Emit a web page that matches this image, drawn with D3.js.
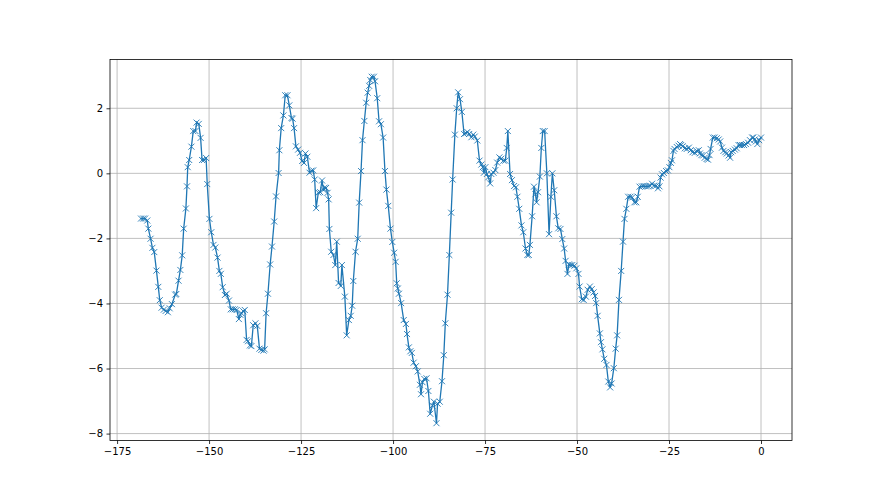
<!DOCTYPE html>
<html>
<head>
<meta charset="utf-8">
<script src="https://cdn.jsdelivr.net/npm/d3@7"></script>
<style>
html,body{margin:0;padding:0;background:#fff;}
svg{display:block;font-family:"DejaVu Sans",sans-serif;}
</style>
</head>
<body>
<svg id="chart" width="880" height="495"></svg>
<script>
const xValues = [-168.5,-167.9,-167.4,-166.8,-166.5,-165.9,-165.4,-164.9,-164.3,-163.8,-163.4,-162.9,-162.3,-161.8,-161.2,-160.7,-160.1,-159.2,-158.9,-158.3,-157.8,-157.3,-156.9,-156.3,-156.0,-155.8,-155.4,-154.8,-154.3,-153.7,-153.4,-152.8,-152.3,-151.9,-151.4,-150.8,-150.5,-149.9,-149.4,-148.8,-148.3,-147.7,-147.2,-146.8,-146.3,-145.7,-145.2,-144.6,-144.1,-143.6,-143.0,-142.5,-141.9,-141.5,-141.2,-140.7,-140.3,-139.8,-139.4,-138.9,-138.5,-138.0,-137.4,-136.9,-136.3,-135.8,-135.2,-134.9,-134.5,-134.0,-133.4,-132.9,-132.3,-131.8,-131.1,-130.9,-130.4,-129.8,-129.3,-128.7,-128.2,-127.6,-127.3,-126.9,-126.4,-125.8,-125.3,-124.7,-124.2,-123.8,-123.3,-122.7,-122.2,-121.7,-121.3,-120.9,-120.3,-119.8,-119.3,-118.9,-118.6,-118.2,-117.8,-117.5,-117.3,-116.8,-116.2,-115.7,-115.3,-114.8,-114.2,-113.9,-113.1,-112.6,-112.0,-111.5,-111.1,-110.8,-110.2,-109.6,-109.2,-108.7,-108.3,-107.8,-107.3,-106.9,-106.5,-106.2,-105.8,-105.2,-104.9,-104.3,-103.8,-103.3,-102.7,-102.2,-101.8,-101.3,-100.7,-100.2,-99.7,-99.3,-99.0,-98.7,-98.4,-97.8,-97.1,-96.5,-96.2,-95.7,-95.3,-94.9,-94.4,-93.8,-93.3,-92.7,-92.4,-92.0,-91.5,-90.9,-90.4,-89.9,-89.3,-88.9,-88.2,-87.9,-87.3,-86.7,-86.2,-85.8,-85.2,-84.7,-84.2,-83.8,-83.2,-82.7,-82.3,-81.8,-81.3,-80.7,-80.2,-79.8,-79.3,-78.7,-78.2,-77.8,-77.1,-76.5,-76.0,-75.6,-75.3,-74.9,-74.5,-74.1,-73.6,-73.3,-72.7,-72.2,-71.7,-71.1,-70.6,-70.0,-69.5,-69.1,-68.8,-68.2,-67.7,-67.1,-66.6,-66.2,-65.7,-65.1,-64.6,-64.0,-63.5,-63.1,-62.8,-62.2,-61.7,-61.3,-61.0,-60.6,-60.1,-59.7,-59.3,-58.8,-58.2,-57.6,-57.1,-56.7,-56.2,-55.6,-55.1,-54.5,-54.0,-53.5,-53.1,-52.6,-52.2,-51.8,-51.3,-50.7,-50.2,-49.6,-49.3,-48.7,-48.2,-47.6,-47.1,-46.5,-46.0,-45.5,-45.1,-44.8,-44.4,-43.8,-43.5,-43.1,-42.6,-42.0,-41.5,-41.0,-40.6,-40.0,-39.5,-39.1,-38.6,-38.0,-37.5,-37.1,-36.6,-36.1,-35.5,-35.0,-34.4,-33.9,-33.5,-33.0,-32.4,-31.9,-31.3,-30.7,-30.2,-29.6,-29.1,-28.5,-28.0,-27.6,-27.3,-26.9,-26.4,-25.8,-25.3,-24.9,-24.5,-24.2,-23.8,-23.5,-22.9,-22.4,-22.0,-21.7,-21.3,-20.7,-20.2,-19.6,-19.1,-18.6,-18.0,-17.5,-16.9,-16.6,-16.2,-15.7,-15.3,-14.8,-14.4,-14.0,-13.7,-13.1,-12.6,-12.0,-11.5,-11.1,-10.6,-10.2,-9.7,-9.3,-8.8,-8.4,-8.1,-7.7,-7.1,-6.6,-6.1,-5.7,-5.2,-4.6,-4.1,-3.5,-3.0,-2.4,-2.1,-1.7,-1.4,-1.0,-0.5,0.0];
const yValues = [-1.39,-1.39,-1.39,-1.45,-1.70,-2.01,-2.29,-2.42,-2.99,-3.49,-3.90,-4.13,-4.19,-4.23,-4.27,-4.15,-4.02,-3.73,-3.71,-3.30,-2.97,-2.52,-1.70,-1.08,-0.40,0.19,0.41,0.82,1.30,1.30,1.56,1.52,1.09,0.41,0.41,0.47,-0.33,-1.40,-1.81,-2.20,-2.28,-2.59,-3.00,-3.09,-3.50,-3.74,-3.70,-3.91,-4.18,-4.18,-4.18,-4.20,-4.48,-4.35,-4.30,-4.24,-4.20,-5.12,-5.16,-5.29,-5.31,-4.67,-4.61,-4.69,-5.39,-5.43,-5.45,-5.41,-4.30,-3.70,-2.80,-2.25,-1.48,-0.71,0.01,0.71,1.39,1.78,2.40,2.40,2.09,1.70,1.68,1.39,0.83,0.73,0.63,0.38,0.32,0.61,0.51,0.02,0.08,0.09,-0.19,-1.07,-0.59,-0.58,-0.22,-0.51,-0.44,-0.45,-0.60,-0.80,-1.71,-2.41,-2.51,-2.82,-2.10,-3.37,-3.46,-2.82,-3.79,-4.98,-4.51,-4.38,-4.07,-3.31,-2.41,-2.01,-0.90,0.07,1.02,1.61,2.17,2.48,2.69,2.87,2.97,2.97,2.83,2.31,1.60,1.51,1.10,0.07,-0.50,-1.00,-1.70,-2.11,-2.44,-2.72,-3.38,-3.54,-3.70,-3.99,-4.51,-4.63,-4.94,-5.35,-5.47,-5.52,-5.82,-5.93,-6.09,-6.50,-6.79,-6.42,-6.32,-6.30,-6.69,-7.39,-7.14,-7.02,-7.68,-7.08,-7.02,-6.39,-5.59,-4.61,-3.73,-2.51,-1.21,-0.19,1.19,2.00,2.49,2.28,1.89,1.21,1.23,1.27,1.21,1.11,1.19,1.13,1.01,0.39,0.27,0.19,0.02,0.19,-0.02,-0.12,-0.31,-0.02,0.02,0.10,0.33,0.49,0.45,0.39,0.39,0.78,1.30,-0.02,-0.21,-0.39,-0.43,-0.72,-1.09,-1.60,-1.81,-2.31,-2.51,-2.51,-2.20,-1.32,-0.41,-0.64,-0.89,-0.58,-0.10,0.78,1.30,1.30,0.00,-1.87,-0.72,0.00,-0.52,-1.32,-1.69,-1.71,-2.02,-2.31,-2.69,-3.09,-2.80,-2.82,-2.82,-2.84,-2.92,-3.09,-3.48,-3.87,-3.89,-3.79,-3.58,-3.48,-3.56,-3.66,-3.77,-3.99,-4.38,-4.92,-5.19,-5.41,-5.70,-5.89,-6.40,-6.58,-6.46,-5.99,-5.39,-4.98,-3.89,-3.00,-2.10,-1.40,-1.09,-0.72,-0.72,-0.74,-0.89,-0.89,-0.72,-0.41,-0.40,-0.39,-0.40,-0.40,-0.38,-0.32,-0.38,-0.38,-0.46,-0.40,-0.13,-0.03,0.01,0.07,0.09,0.19,0.32,0.40,0.69,0.75,0.81,0.85,0.90,0.87,0.83,0.77,0.75,0.79,0.71,0.65,0.63,0.69,0.71,0.61,0.56,0.55,0.48,0.44,0.42,0.56,0.75,1.10,1.10,1.08,1.04,0.98,0.79,0.69,0.65,0.61,0.55,0.48,0.65,0.69,0.73,0.77,0.87,0.87,0.87,0.87,0.90,0.94,1.02,1.10,1.10,1.04,0.98,0.90,1.02,1.10];
const xTicks = [-175,-150,-125,-100,-75,-50,-25,0];
const yTicks = [-8,-6,-4,-2,0,2];

const W = 880, H = 495;
const margin = {left: 110, right: 88, top: 59.4, bottom: 54.5};
const pw = W - margin.left - margin.right;
const ph = H - margin.top - margin.bottom;
const color = "#1f77b4";
const fmt = v => (v < 0 ? "\u2212" + Math.abs(v) : String(v));

const data = xValues.map((x, i) => ({x: x, y: yValues[i]}));
const [x0, x1] = d3.extent(xValues);
const [y0, y1] = d3.extent(yValues);
const xs = d3.scaleLinear().domain([x0 - 0.05 * (x1 - x0), x1 + 0.05 * (x1 - x0)]).range([0, pw]);
const ys = d3.scaleLinear().domain([y0 - 0.05 * (y1 - y0), y1 + 0.05 * (y1 - y0)]).range([ph, 0]);

const svg = d3.select("#chart");
const g = svg.append("g").attr("transform", `translate(${margin.left},${margin.top})`);

// grid
g.append("g").selectAll("line").data(xTicks).join("line")
  .attr("x1", d => xs(d)).attr("x2", d => xs(d)).attr("y1", 0).attr("y2", ph)
  .attr("stroke", "#b0b0b0").attr("stroke-width", 0.8);
g.append("g").selectAll("line").data(yTicks).join("line")
  .attr("y1", d => ys(d)).attr("y2", d => ys(d)).attr("x1", 0).attr("x2", pw)
  .attr("stroke", "#b0b0b0").attr("stroke-width", 0.8);

// axes
const xAxis = d3.axisBottom(xs).tickValues(xTicks).tickFormat(fmt).tickSizeInner(3.5).tickSizeOuter(0).tickPadding(3.5);
const yAxis = d3.axisLeft(ys).tickValues(yTicks).tickFormat(fmt).tickSizeInner(3.5).tickSizeOuter(0).tickPadding(3.5);
const gx = g.append("g").attr("transform", `translate(0,${ph})`).call(xAxis);
const gy = g.append("g").call(yAxis);
[gx, gy].forEach(a => {
  a.select(".domain").remove();
  a.selectAll(".tick line").attr("stroke", "#000").attr("stroke-width", 0.8);
  a.selectAll(".tick text").attr("fill", "#000").style("font-size", "10px").style("font-family", "'DejaVu Sans', sans-serif");
});

// line
const line = d3.line().x(d => xs(d.x)).y(d => ys(d.y));
g.append("path").datum(data).attr("d", line)
  .attr("fill", "none").attr("stroke", color).attr("stroke-width", 1.3)
  .attr("stroke-linejoin", "round").attr("stroke-linecap", "square");

// markers
const m = 3;
g.append("g").selectAll("path").data(data).join("path")
  .attr("d", d => {
    const cx = xs(d.x), cy = ys(d.y);
    return `M${cx - m},${cy - m}L${cx + m},${cy + m}M${cx - m},${cy + m}L${cx + m},${cy - m}`;
  })
  .attr("stroke", color).attr("stroke-width", 0.9).attr("fill", "none");

// spines
g.append("rect").attr("x", 0).attr("y", 0).attr("width", pw).attr("height", ph)
  .attr("fill", "none").attr("stroke", "#000").attr("stroke-width", 0.8);
</script>
</body>
</html>
